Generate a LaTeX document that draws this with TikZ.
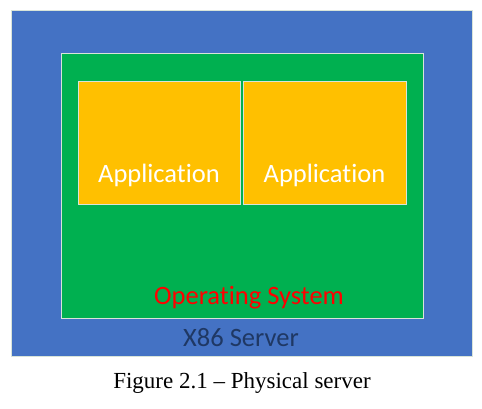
\documentclass[tikz,border=0pt]{standalone}
\usepackage{fontspec}
\setmainfont{Liberation Serif}
\newfontfamily\calib[Ligatures={NoCommon}]{Carlito}
\definecolor{srvblue}{HTML}{4472C4}
\definecolor{osgreen}{HTML}{00B050}
\definecolor{appgold}{HTML}{FFC000}
\definecolor{osred}{HTML}{FF0000}
\definecolor{srvtext}{HTML}{1F3864}
\definecolor{edgecol}{HTML}{D9E4D9}
\begin{document}
\begin{tikzpicture}[x=1pt,y=-1pt,
  layer/.style={draw=edgecol, line width=0.8pt},
  lbl/.style={font=\calib\fontsize{26.5}{30}\selectfont, inner sep=0pt, anchor=center}]
\useasboundingbox (0,0) rectangle (482,408);
\fill[white] (0,0) rectangle (482,408);
\path[layer, fill=srvblue] (11,10) rectangle (472,356);
\path[layer, fill=osgreen] (61,53) rectangle (423,318);
\path[layer, fill=appgold] (78,81) rectangle (240,204);
\path[layer, fill=appgold] (243,81) rectangle (406,204);
\node[lbl, text=white] (app1) at (159,175) {Application};
\node[lbl, text=white] (app2) at (324.5,175) {Application};
\node[lbl, text=osred] (os) at (249,298) {Operating System};
\node[lbl, text=srvtext] (srv) at (241,338) {X86 Server};
\node[font=\fontsize{23}{26}\selectfont, inner sep=0pt] (cap) at (242,383) {Figure 2.1 – Physical server};
\end{tikzpicture}
\end{document}
